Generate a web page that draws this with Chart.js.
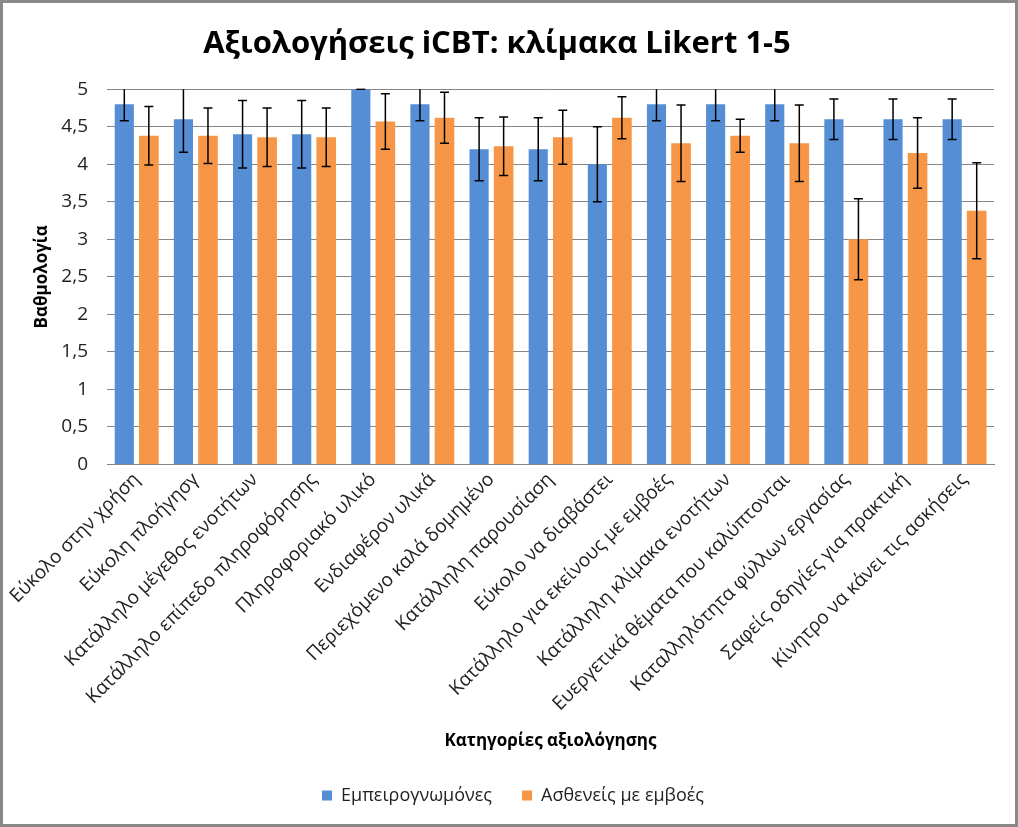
<!DOCTYPE html>
<html>
<head>
<meta charset="utf-8">
<script src="https://cdn.jsdelivr.net/npm/chart.js@4"></script>
<style>
  html, body { margin: 0; padding: 0; background: #fff; }
  #wrap { width: 1018px; height: 827px; }
</style>
</head>
<body>
<div id="wrap"><canvas id="grafico" width="1018" height="827"></canvas></div>
<script>
// Categorías y valores
const categorias = [
  'Εύκολο στην χρήση',
  'Εύκολη πλοήγησγ',
  'Κατάλληλο μέγεθος ενοτήτων',
  'Κατάλληλο επίπεδο πληροφόρησης',
  'Πληροφοριακό υλικό',
  'Ενδιαφέρον υλικά',
  'Περιεχόμενο καλά δομημένο',
  'Κατάλληλη παρουσίαση',
  'Εύκολο να διαβάστει',
  'Κατάλληλο για εκείνους με εμβοές',
  'Κατάλληλη κλίμακα ενοτήτων',
  'Ευεργετικά θέματα που καλύπτονται',
  'Καταλληλότητα φύλλων εργασίας',
  'Σαφείς οδηγίες για πρακτική',
  'Κίνητρο να κάνει τις ασκήσεις'
];
const expertos = [4.8, 4.6, 4.4, 4.4, 5.0, 4.8, 4.2, 4.2, 4.0, 4.8, 4.8, 4.8, 4.6, 4.6, 4.6];
const errorExpertos = [0.22, 0.44, 0.45, 0.45, 0, 0.22, 0.42, 0.42, 0.5, 0.22, 0.22, 0.22, 0.27, 0.27, 0.27];
const pacientes = [4.38, 4.38, 4.36, 4.36, 4.57, 4.62, 4.24, 4.36, 4.62, 4.28, 4.38, 4.28, 3.0, 4.15, 3.38];
const errorPacientes = [0.39, 0.37, 0.39, 0.39, 0.37, 0.34, 0.39, 0.36, 0.28, 0.51, 0.22, 0.51, 0.54, 0.47, 0.64];
const ticksY = ['0', '0,5', '1', '1,5', '2', '2,5', '3', '3,5', '4', '4,5', '5'];

const fuente = 'Open Sans';

// Plugin: barras de error
const barrasError = {
  id: 'barrasError',
  afterDatasetsDraw(chart) {
    const ctx = chart.ctx;
    const y = chart.scales.y;
    const area = chart.chartArea;
    ctx.save();
    ctx.beginPath();
    ctx.rect(area.left, area.top - 1, area.right - area.left, area.bottom - area.top + 2);
    ctx.clip();
    ctx.strokeStyle = '#000';
    ctx.lineWidth = 1.5;
    chart.data.datasets.forEach((ds, i) => {
      const meta = chart.getDatasetMeta(i);
      meta.data.forEach((bar, j) => {
        const v = ds.data[j], e = ds.errores[j];
        const yA = y.getPixelForValue(Math.min(v + e, 5));
        const yB = y.getPixelForValue(v - e);
        ctx.beginPath();
        ctx.moveTo(bar.x, yA); ctx.lineTo(bar.x, yB);
        if (v + e <= 5) { ctx.moveTo(bar.x - 4.5, yA); ctx.lineTo(bar.x + 4.5, yA); }
        ctx.moveTo(bar.x - 4.5, yB); ctx.lineTo(bar.x + 4.5, yB);
        ctx.stroke();
      });
    });
    ctx.restore();
  }
};

// Plugin: fondo, marco y leyenda un poco a la derecha
const marco = {
  id: 'marco',
  afterLayout(chart) {
    chart.legend.left += 16;
    chart.legend.right += 16;
  },
  beforeDraw(chart) {
    const ctx = chart.ctx;
    ctx.save();
    ctx.fillStyle = '#fff';
    ctx.fillRect(0, 0, chart.width, chart.height);
    ctx.restore();
  },
  afterDraw(chart) {
    const ctx = chart.ctx;
    ctx.save();
    ctx.strokeStyle = '#898989';
    ctx.lineWidth = 3;
    ctx.strokeRect(1.5, 1.5, chart.width - 3, chart.height - 3);
    ctx.restore();
  }
};

new Chart(document.getElementById('grafico').getContext('2d'), {
  type: 'bar',
  data: {
    labels: categorias,
    datasets: [
      { label: 'Εμπειρογνωμόνες', data: expertos, errores: errorExpertos, backgroundColor: '#558ED5',
        categoryPercentage: 0.83, barPercentage: 0.78 },
      { label: 'Ασθενείς με εμβοές', data: pacientes, errores: errorPacientes, backgroundColor: '#F79646',
        categoryPercentage: 0.83, barPercentage: 0.8 }
    ]
  },
  options: {
    responsive: false,
    animation: false,
    layout: { padding: { left: 0, right: 24, top: 0, bottom: 12.5 } },
    plugins: {
      title: {
        display: true,
        text: 'Αξιολογήσεις iCBT: κλίμακα Likert 1-5',
        color: '#000',
        font: { family: fuente, size: 31, weight: 'bold' },
        padding: { top: 26, bottom: 26 }
      },
      legend: {
        position: 'bottom',
        labels: {
          color: '#222',
          font: { family: fuente, size: 18 },
          boxWidth: 10, boxHeight: 10, padding: 30
        }
      },
      tooltip: { enabled: false }
    },
    scales: {
      x: {
        afterFit: (s) => { s.height = 292; },
        grid: { display: false, drawTicks: false },
        border: { color: '#868686' },
        ticks: {
          color: '#222', autoSkip: false, maxRotation: 45, minRotation: 45,
          font: { family: fuente, size: 19 }, padding: 4
        },
        title: {
          display: true, text: 'Κατηγορίες αξιολόγησης', color: '#000',
          font: { family: fuente, size: 17, weight: 'bold' }, padding: { top: 4, bottom: 5 }
        }
      },
      y: {
        min: 0, max: 5,
        afterFit: (s) => { s.width = 107; },
        grid: { color: '#868686', drawTicks: false, lineWidth: 1 },
        border: { display: false },
        ticks: {
          stepSize: 0.5, color: '#222', padding: 19,
          font: { family: fuente, size: 19 },
          callback: (v, i) => ticksY[i]
        },
        title: {
          display: true, text: 'Βαθμολογία', color: '#000',
          font: { family: fuente, size: 17, weight: 'bold' }, padding: { top: 32, bottom: 0 }
        }
      }
    }
  },
  plugins: [marco, barrasError]
});
</script>
</body>
</html>
